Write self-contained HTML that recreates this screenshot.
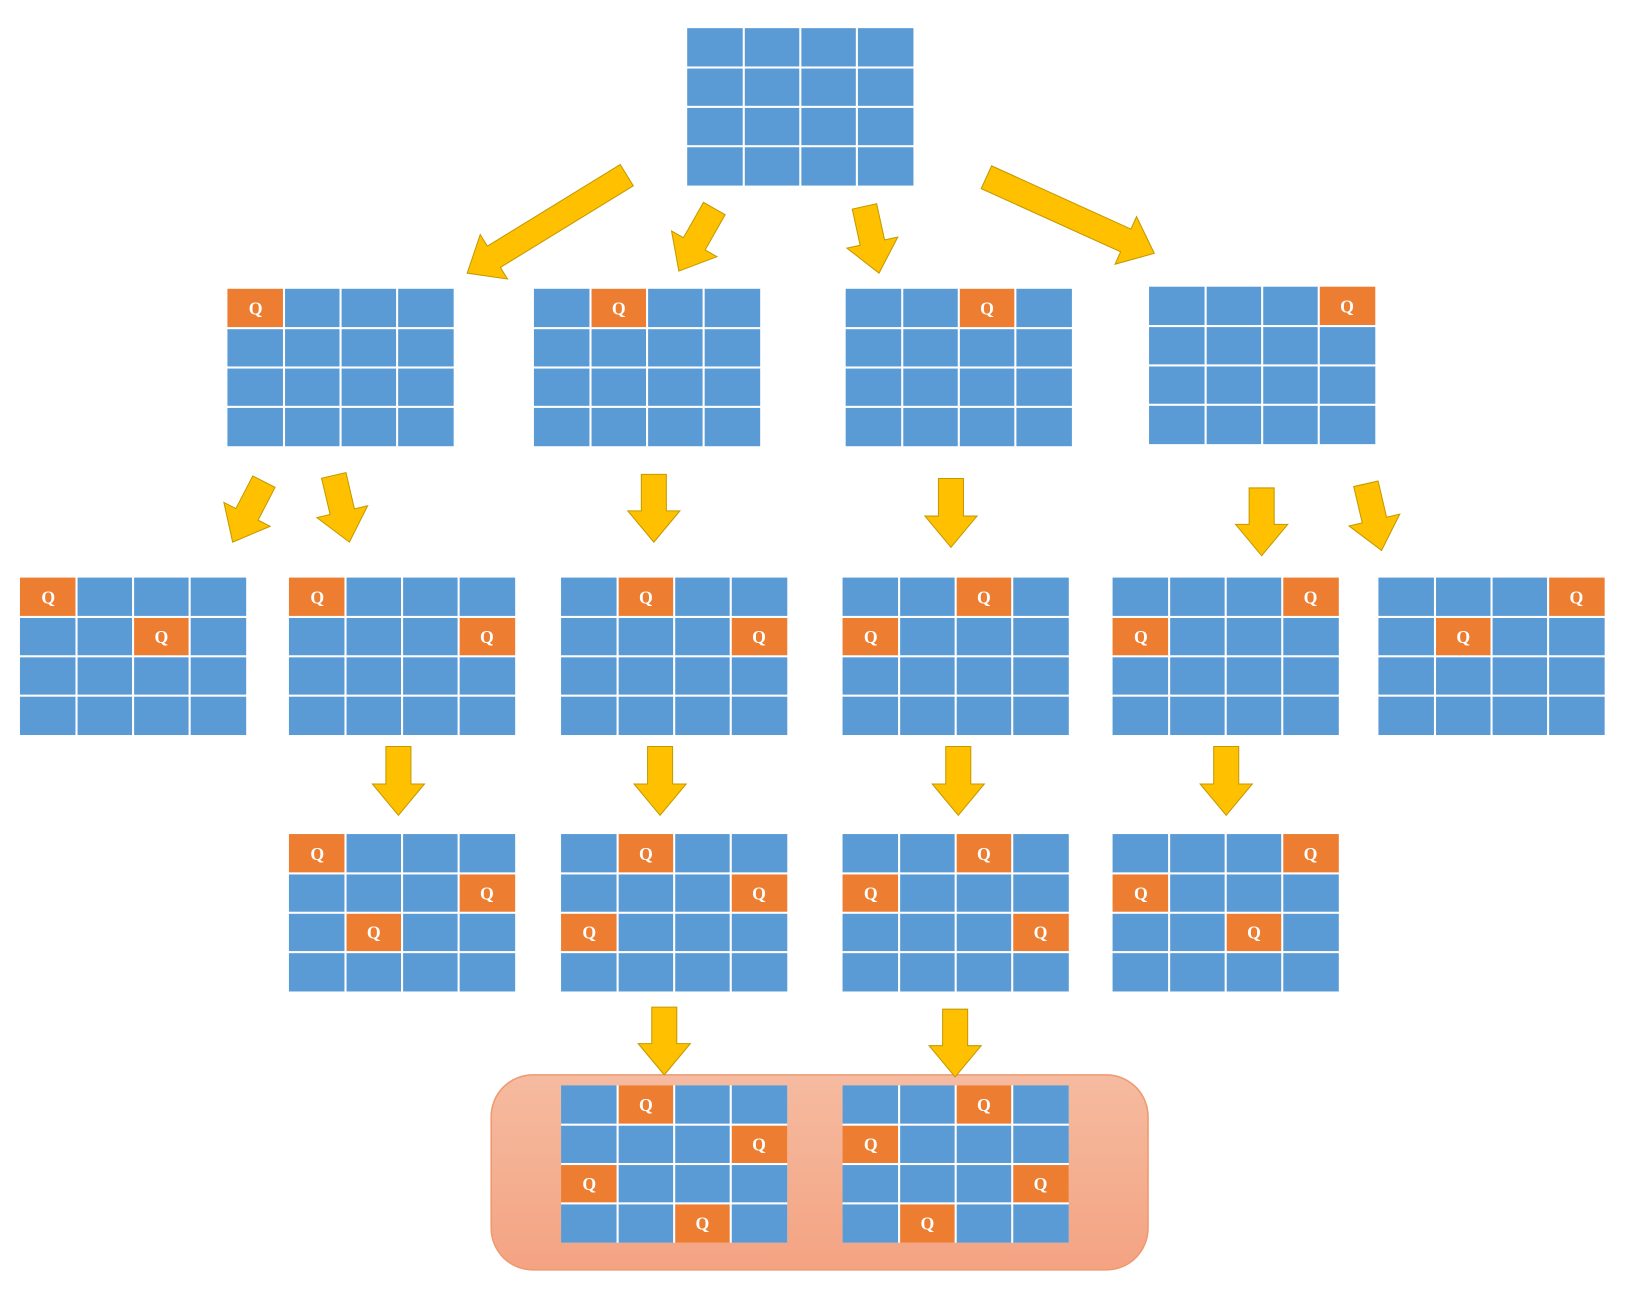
<!DOCTYPE html>
<html><head><meta charset="utf-8"><style>html,body{margin:0;padding:0;background:#fff;}svg{display:block}</style></head>
<body>
<svg id="chart" width="1634" height="1298" viewBox="0 0 1567 1245" xmlns="http://www.w3.org/2000/svg">
<defs><linearGradient id="hg" x1="0" y1="0" x2="0" y2="1"><stop offset="0" stop-color="#f5bba0"/><stop offset="1" stop-color="#f4a382"/></linearGradient></defs>
<rect x="471" y="1031" width="630" height="187" rx="40" fill="url(#hg)" stroke="#ee9a70" stroke-width="1.5"/>
<g id="arrows"></g><g id="boards"></g>
</svg>
<script>
const boardPos=[[659,27],[218,277],[512,277],[811,277],[1102,275],[19,554],[277,554],[538,554],[808,554],[1067,554],[1322,554],[277,800],[538,800],[808,800],[1067,800],[538,1041],[808,1041]];
const boardQueens=[[],[[0,0]],[[0,1]],[[0,2]],[[0,3]],[[0,0],[1,2]],[[0,0],[1,3]],[[0,1],[1,3]],[[0,2],[1,0]],[[0,3],[1,0]],[[0,3],[1,1]],[[0,0],[1,3],[2,1]],[[0,1],[1,3],[2,0]],[[0,2],[1,0],[2,3]],[[0,3],[1,0],[2,2]],[[0,1],[1,3],[2,0],[3,2]],[[0,2],[1,0],[2,3],[3,1]]];
const arrowList=[[601,168,448,262],[685,200,651,260],[829,198,843,262],[946,170,1107,243],[253,462,223,520],[320,456,335,520],[627,455,627,520],[912,459,912,525],[1210,468,1210,533],[1310,464,1325,528],[382,716,382,782],[633,716,633,782],[919,716,919,782],[1176,716,1176,782],[637,966,637,1031],[916,968,916,1033]];
const NS="http://www.w3.org/2000/svg";
const ag=document.getElementById('arrows'), bg=document.getElementById('boards');
arrowList.forEach((a,i)=>{
 const [x1,y1,x2,y2]=a; const dx=x2-x1,dy=y2-y1,L=Math.hypot(dx,dy),ux=dx/L,uy=dy/L,px=-uy,py=ux;
 const sw=12,hw=25,hl=30;
 const bx=x2-ux*hl,by=y2-uy*hl;
 const pts=[[x1+px*sw,y1+py*sw],[bx+px*sw,by+py*sw],[bx+px*hw,by+py*hw],[x2,y2],[bx-px*hw,by-py*hw],[bx-px*sw,by-py*sw],[x1-px*sw,y1-py*sw]];
 const p=document.createElementNS(NS,'polygon');
 p.setAttribute('points',pts.map(q=>q[0].toFixed(1)+','+q[1].toFixed(1)).join(' '));
 p.setAttribute('fill','#ffc000');p.setAttribute('stroke','#c49a00');p.setAttribute('stroke-width','1');
 
 
 ag.appendChild(p);
});
const W=217,H=151,cw=W/4,ch=H/4;
boardPos.forEach((b,i)=>{
 const g=document.createElementNS(NS,'g');
 
 
 const bgr=document.createElementNS(NS,'rect');
 bgr.setAttribute('x',b[0]);bgr.setAttribute('y',b[1]);bgr.setAttribute('width',W);bgr.setAttribute('height',H);bgr.setAttribute('fill','#fff');
 g.appendChild(bgr);
 for(let r=0;r<4;r++)for(let c=0;c<4;c++){
  const q=boardQueens[i].some(v=>v[0]===r&&v[1]===c);
  const rc=document.createElementNS(NS,'rect');
  rc.setAttribute('x',b[0]+c*cw+(c?1:0));rc.setAttribute('y',b[1]+r*ch+(r?1:0));
  rc.setAttribute('width',cw-(c?1:0)-(c<3?1:0));rc.setAttribute('height',ch-(r?1:0)-(r<3?1:0));
  rc.setAttribute('fill',q?'#ed7d31':'#5b9bd5');
  
  
  g.appendChild(rc);
  if(q){const t=document.createElementNS(NS,'text');
   t.setAttribute('x',b[0]+c*cw+cw/2);t.setAttribute('y',b[1]+r*ch+ch/2+6);
   t.setAttribute('text-anchor','middle');t.setAttribute('fill','#fff');t.setAttribute('font-size','17');t.setAttribute('font-weight','bold');
   t.setAttribute('font-family','Liberation Serif, serif');t.textContent='Q';
   
   
   g.appendChild(t);}
 }
 bg.appendChild(g);
});
</script>
</body></html>
